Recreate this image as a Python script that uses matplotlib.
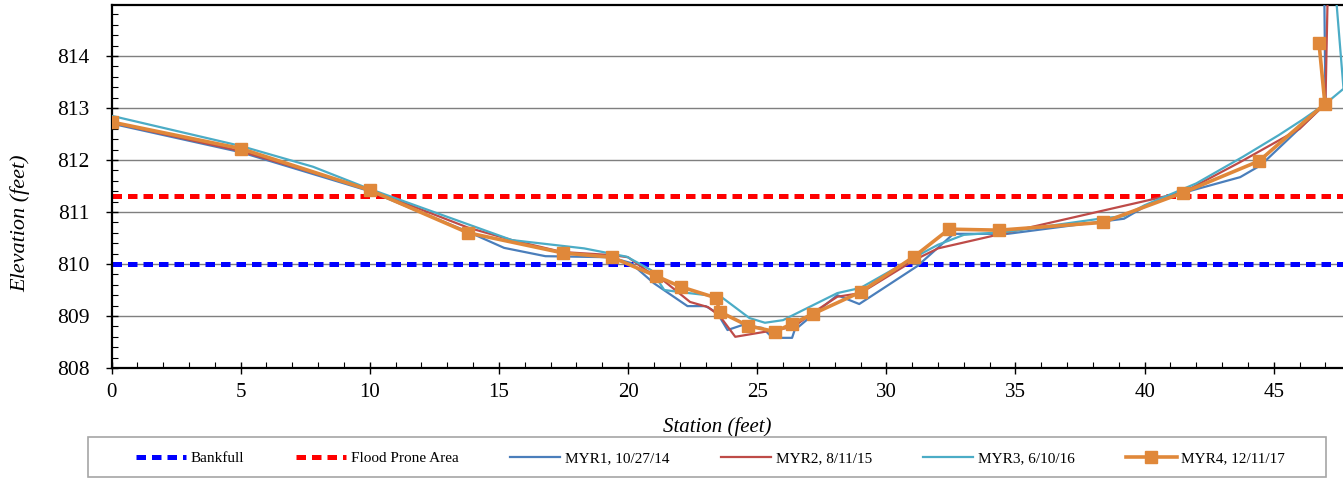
import matplotlib
matplotlib.use('Agg')

import numpy as np
import matplotlib.pyplot as plt
from matplotlib.patches import Rectangle
from matplotlib.ticker import MultipleLocator

plt.rcParams['font.family'] = ['Liberation Serif', 'DejaVu Serif']

# reference elevations
bankfull = 810.0
flood_prone = 811.3

# cross-section surveys: station (ft) and elevation (ft)
myr1_x = [0, 5, 10, 13.8, 15.2, 16.8, 19.3, 20.1, 21.0, 22.3, 23.0, 23.45, 23.85, 24.45, 25.2,
          25.6, 26.35, 26.45, 27.15, 28.1, 28.95, 31.2, 32.6, 34.7, 38.4, 39.2, 40.1, 41.5,
          43.7, 44.5, 47.0, 46.95]
myr1_y = [812.70, 812.15, 811.40, 810.62, 810.31, 810.15, 810.13, 810.02, 809.63, 809.19, 809.19,
          809.06, 808.73, 808.83, 808.77, 808.58, 808.58, 808.73, 809.02, 809.40, 809.23, 809.96,
          810.58, 810.58, 810.82, 810.87, 811.13, 811.37, 811.67, 811.90, 813.08, 815.5]

myr2_x = [0, 5, 10, 13.8, 15.5, 17.45, 19.4, 20.0, 20.7, 21.35, 22.4, 23.1, 23.55, 24.15, 25.7,
          26.4, 27.15, 28.1, 29.0, 31.1, 32.0, 41.5, 43.7, 46.0, 47.0, 47.1]
myr2_y = [812.72, 812.17, 811.43, 810.70, 810.46, 810.23, 810.17, 810.13, 809.88, 809.69, 809.27,
          809.17, 809.00, 808.60, 808.73, 808.79, 809.06, 809.37, 809.44, 810.08, 810.30, 811.38,
          811.96, 812.60, 813.08, 815.5]

myr3_x = [0, 5, 7.8, 9.9, 15.5, 18.3, 19.95, 20.9, 21.4, 22.0, 23.6, 24.7, 25.3, 26.0, 26.4, 28.1,
          29.0, 31.1, 32.0, 33.0, 34.7, 38.4, 39.2, 40.0, 42.0, 43.8, 45.2, 46.1, 47.0, 47.7, 47.35]
myr3_y = [812.85, 812.27, 811.87, 811.46, 810.46, 810.30, 810.14, 809.88, 809.50, 809.46, 809.37,
          808.96, 808.87, 808.92, 809.02, 809.44, 809.54, 810.13, 810.37, 810.56, 810.62, 810.88,
          810.92, 811.13, 811.55, 812.06, 812.48, 812.77, 813.08, 813.37, 815.5]

myr4_x = [0, 5.0, 10.0, 13.8, 17.5, 19.37, 21.08, 22.05, 23.4, 23.55, 24.65, 25.7, 26.35, 27.16,
          29.0, 31.07, 32.43, 34.36, 38.38, 41.48, 44.43, 46.98, 46.75]
myr4_y = [812.73, 812.22, 811.42, 810.60, 810.21, 810.13, 809.77, 809.56, 809.35, 809.08, 808.81,
          808.70, 808.85, 809.04, 809.46, 810.14, 810.67, 810.65, 810.80, 811.37, 811.98, 813.08,
          814.25]

fig = plt.figure(figsize=(13.43, 4.78), dpi=100)
ax = fig.add_axes([111.5 / 1343, 1 - 368 / 478, 1 - 111.5 / 1343, 363 / 478])

ax.set_xlim(0, 47.68)
ax.set_ylim(808, 814.98)

ax.yaxis.set_major_locator(MultipleLocator(1))
ax.yaxis.set_minor_locator(MultipleLocator(0.2))
ax.xaxis.set_major_locator(MultipleLocator(5))
ax.xaxis.set_minor_locator(MultipleLocator(1))
ax.grid(axis='y', which='major', color='#7f7f7f', lw=1.0, zorder=0)
ax.set_axisbelow(True)

ax.tick_params(which='major', direction='inout', length=8, width=1.0)
ax.tick_params(which='minor', direction='in', length=4, width=0.8)
ax.tick_params(axis='y', which='major', labelsize=15.5, pad=12)
ax.tick_params(axis='x', which='major', labelsize=15, pad=7)
ax.yaxis.set_major_formatter(plt.FuncFormatter(lambda v, p: f'{v:.0f}'))

for side in ['left', 'bottom', 'top']:
    ax.spines[side].set_linewidth(1.6)
    ax.spines[side].set_color('black')
ax.spines['right'].set_visible(False)

dash = (1.9, 1.2)
ax.axhline(bankfull, color='#0000ff', lw=3.6, dashes=dash, label='Bankfull', zorder=2)
ax.axhline(flood_prone, color='#ff0000', lw=3.6, dashes=dash, label='Flood Prone Area', zorder=2)

ax.plot(myr1_x, myr1_y, color='#4a7ebb', lw=1.6, label='MYR1, 10/27/14', zorder=3)
ax.plot(myr2_x, myr2_y, color='#be4b48', lw=1.6, label='MYR2, 8/11/15', zorder=3)
ax.plot(myr3_x, myr3_y, color='#4bacc6', lw=1.6, label='MYR3, 6/10/16', zorder=3)
ax.plot(myr4_x, myr4_y, color='#e0883a', lw=2.6, marker='s', ms=9, label='MYR4, 12/11/17',
        zorder=4)

ax.text(0.4917, -0.162, 'Station (feet)', transform=ax.transAxes, ha='center', va='center',
        fontsize=15, style='italic')
ax.text(-0.0743, 0.40, 'Elevation (feet)', transform=ax.transAxes, ha='center', va='center',
        fontsize=16, style='italic', rotation=90)

# legend box under the plot
W, H = 1343, 478
fig.patches.append(Rectangle((88 / W, 1 - 477 / H), (1326 - 88) / W, (477 - 437) / H,
                             transform=fig.transFigure, fill=False, edgecolor='#a6a6a6', lw=1.2))
fig.legend(loc='center left', bbox_to_anchor=(136 / W, 1 - 458 / H, (1285 - 136) / W, 0),
           mode='expand', ncol=6, frameon=False, fontsize=11, handlelength=3.3,
           handletextpad=0.3, borderpad=0, borderaxespad=0)

fig.savefig('out.png', dpi=100)
